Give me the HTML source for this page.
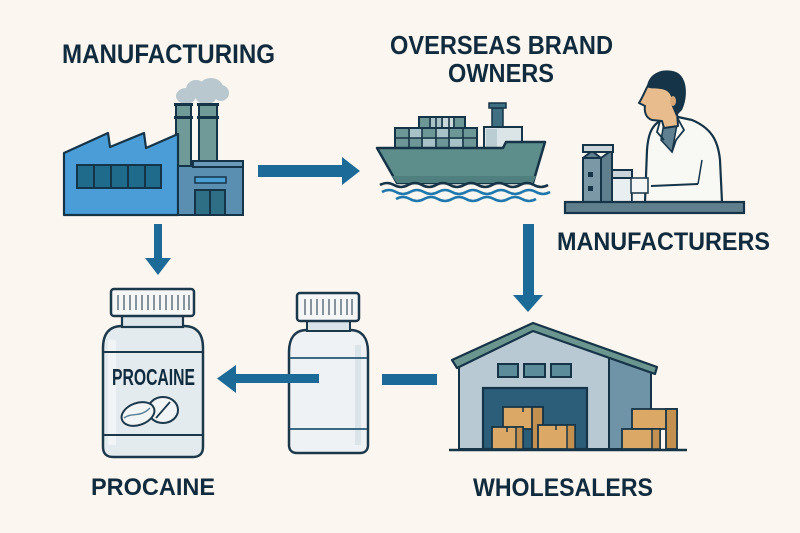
<!DOCTYPE html>
<html>
<head>
<meta charset="utf-8">
<style>
  html,body{margin:0;padding:0;background:#fbf7f0;}
  svg{display:block;}
  .lbl{font-family:"Liberation Sans",Arial,sans-serif;font-weight:bold;fill:#112b3e;}
</style>
</head>
<body>
<svg width="800" height="533" viewBox="0 0 800 533" xmlns="http://www.w3.org/2000/svg">
  <rect x="0" y="0" width="800" height="533" fill="#fbf7f0"/>

  <!-- ===== Labels ===== -->
  <text class="lbl" x="62" y="63" font-size="27" textLength="213" lengthAdjust="spacingAndGlyphs">MANUFACTURING</text>
  <text class="lbl" x="390" y="54" font-size="26" textLength="223" lengthAdjust="spacingAndGlyphs">OVERSEAS BRAND</text>
  <text class="lbl" x="448" y="82" font-size="26" textLength="106" lengthAdjust="spacingAndGlyphs">OWNERS</text>
  <text class="lbl" x="557" y="250" font-size="25" textLength="213" lengthAdjust="spacingAndGlyphs">MANUFACTURERS</text>
  <text class="lbl" x="91" y="495" font-size="24" textLength="124" lengthAdjust="spacingAndGlyphs">PROCAINE</text>
  <text class="lbl" x="473" y="496" font-size="25" textLength="180" lengthAdjust="spacingAndGlyphs">WHOLESALERS</text>

  <!-- ===== Factory ===== -->
  <!-- smoke -->
  <g fill="#b8c8ce">
    <ellipse cx="186" cy="96" rx="10" ry="8"/>
    <ellipse cx="196" cy="89" rx="10" ry="9"/>
    <ellipse cx="211" cy="88" rx="12" ry="10"/>
    <ellipse cx="221" cy="93" rx="8" ry="8"/>
    <ellipse cx="206" cy="98" rx="10" ry="6"/>
  </g>
  <!-- chimneys -->
  <rect x="176" y="104" width="15" height="62" fill="#6f9a98" stroke="#163447" stroke-width="2"/>
  <rect x="174" y="116" width="19" height="3" fill="#163447"/>
  <rect x="174" y="103" width="19" height="3" fill="#163447"/>
  <rect x="199" y="104" width="18" height="60" fill="#6f9a98" stroke="#163447" stroke-width="2"/>
  <rect x="197" y="116" width="22" height="3" fill="#163447"/>
  <rect x="197" y="103" width="22" height="3" fill="#163447"/>
  <!-- main building -->
  <path d="M64,153 L108,133 L110,147 L144,133 L146,148 L178,134 L178,215 L64,215 Z" fill="#4a9dd6" stroke="#163447" stroke-width="2.2" stroke-linejoin="round"/>
  <rect x="77" y="165" width="84" height="23" fill="#1f6b8c" stroke="#163447" stroke-width="2"/>
  <g stroke="#163447" stroke-width="2">
    <line x1="94" y1="165" x2="94" y2="188"/>
    <line x1="111" y1="165" x2="111" y2="188"/>
    <line x1="128" y1="165" x2="128" y2="188"/>
    <line x1="145" y1="165" x2="145" y2="188"/>
  </g>
  <!-- annex -->
  <rect x="178" y="166" width="65" height="49" fill="#5b8fb2" stroke="#163447" stroke-width="2"/>
  <rect x="193" y="161" width="50" height="6" fill="#6b9bbb" stroke="#163447" stroke-width="2"/>
  <rect x="195" y="177" width="31" height="6" fill="#4aa0d4" stroke="#163447" stroke-width="1.5"/>
  <rect x="195" y="190" width="30" height="25" fill="#2f6f85" stroke="#163447" stroke-width="2"/>
  <line x1="210" y1="190" x2="210" y2="215" stroke="#163447" stroke-width="2"/>

  <!-- ===== Arrow factory -> ship ===== -->
  <rect x="258" y="165" width="86" height="12" fill="#1b6a98"/>
  <polygon points="342,157 360,171 342,185" fill="#1b6a98"/>

  <!-- ===== Ship ===== -->
  <!-- mast -->
  <rect x="492" y="108" width="11" height="20" fill="#3f6f80" stroke="#163447" stroke-width="1.5"/>
  <rect x="489" y="103" width="17" height="5" fill="#3f6f80" stroke="#163447" stroke-width="1.5"/>
  <!-- bridge -->
  <rect x="484" y="127" width="38" height="21" fill="#dbe4e6" stroke="#163447" stroke-width="2"/>
  <rect x="486" y="129" width="11" height="18" fill="#b9cdd2"/>
  <!-- containers -->
  <rect x="419" y="117" width="46" height="11" fill="#6d9696" stroke="#163447" stroke-width="2"/>
  <rect x="431" y="118" width="11" height="9" fill="#a8c3c8"/>
  <rect x="443" y="118" width="10" height="9" fill="#c9d8db"/>
  <rect x="395" y="128" width="82" height="20" fill="#6d9696" stroke="#163447" stroke-width="2"/>
  <g fill="#a8c3c8">
    <rect x="410" y="129" width="12" height="9"/>
    <rect x="436" y="129" width="12" height="9"/>
    <rect x="450" y="139" width="12" height="8"/>
    <rect x="423" y="139" width="12" height="8"/>
  </g>
  <g stroke="#163447" stroke-width="1.6">
    <line x1="395" y1="138" x2="477" y2="138"/>
    <line x1="409" y1="128" x2="409" y2="148"/>
    <line x1="422" y1="128" x2="422" y2="148"/>
    <line x1="436" y1="117" x2="436" y2="148"/>
    <line x1="449" y1="117" x2="449" y2="148"/>
    <line x1="463" y1="128" x2="463" y2="148"/>
    <line x1="430" y1="117" x2="430" y2="128"/>
    <line x1="442" y1="117" x2="442" y2="128"/>
    <line x1="454" y1="117" x2="454" y2="128"/>
  </g>
  <!-- hull -->
  <path d="M377,148 L503,148 L506,142 L545,142 L533,183 L397,183 Z" fill="#5e8e8c" stroke="#163447" stroke-width="2.5" stroke-linejoin="round"/>
  <path d="M392,176 L536,176 L533,183 L397,183 Z" fill="#4f807f"/>
  <!-- waves -->
  <path d="M380,185 q7,-4 14,0 t14,0 t14,0 t14,0 t14,0 t14,0 t14,0 t14,0 t14,0 t14,0 t14,0 t14,0" fill="none" stroke="#163447" stroke-width="2.5"/>
  <path d="M382,192 q7,-4 14,0 t14,0 t14,0 t14,0 t14,0 t14,0 t14,0 t14,0 t14,0 t14,0 t14,0 t14,0" fill="none" stroke="#1e78ae" stroke-width="2.5"/>
  <path d="M396,199 q7,-4 14,0 t14,0 t14,0 t14,0 t14,0 t14,0 t14,0 t14,0 t14,0 t14,0" fill="none" stroke="#1e78ae" stroke-width="2.5"/>

  <!-- ===== Manufacturers (person at desk) ===== -->
  <!-- machine -->
  <rect x="583" y="158" width="18" height="44" fill="#7a98a6" stroke="#163447" stroke-width="2"/>
  <path d="M601,158 L612,150 L612,202 L601,202 Z" fill="#5f7f8f" stroke="#163447" stroke-width="2" stroke-linejoin="round"/>
  <path d="M583,158 L592,151 L601,158 Z" fill="#5f7f8f" stroke="#163447" stroke-width="2" stroke-linejoin="round"/>
  <rect x="583" y="145" width="30" height="7" fill="#c9d3d8" stroke="#163447" stroke-width="2"/>
  <rect x="588" y="172" width="5" height="5" fill="#163447"/>
  <rect x="588" y="186" width="5" height="5" fill="#163447"/>
  <rect x="612" y="170" width="20" height="32" fill="#e9eef0" stroke="#163447" stroke-width="2"/>
  <rect x="612" y="170" width="20" height="8" fill="#c9d5da" stroke="#163447" stroke-width="2"/>
  <rect x="632" y="184" width="16" height="18" fill="#f4f6f6" stroke="#163447" stroke-width="1.5"/>
  <!-- coat -->
  <path d="M660,121 C651,126 648,136 647,150 L645,202 L722,202 L720,160 C718,140 711,128 692,120 L678,117 Z" fill="#f8f8f5" stroke="#163447" stroke-width="2.2" stroke-linejoin="round"/>
  <path d="M664,123 L678,119 L672,152 L661,140 Z" fill="#5f8090" stroke="#163447" stroke-width="1.5"/>
  <path d="M678,119 L684,130 L676,140 L672,152" fill="none" stroke="#163447" stroke-width="1.8"/>
  <path d="M660,121 L657,132 L664,140" fill="none" stroke="#163447" stroke-width="1.8"/>
  <line x1="651" y1="186" x2="698" y2="184" stroke="#163447" stroke-width="2"/>
  <path d="M698,184 L702,160" fill="none" stroke="#163447" stroke-width="1.5"/>
  <rect x="631" y="178" width="17" height="15" fill="#f4f6f6" stroke="#163447" stroke-width="1.5"/>
  <!-- head -->
  <path d="M650,82 C646,88 644,95 639,103 L645,106 C644,112 646,118 652,120 L662,121 L664,128 L678,126 L677,112 C684,105 684,88 678,78 C670,70 655,72 650,82 Z" fill="#e9bc8e" stroke="#163447" stroke-width="2" stroke-linejoin="round"/>
  <path d="M647,87 C648,74 662,67 676,72 C688,77 688,98 682,110 L676,116 L671,104 C673,96 669,90 661,89 C655,88 650,89 647,87 Z" fill="#163447"/>
  <ellipse cx="673" cy="101" rx="3" ry="5" fill="#d9a877"/>
  <!-- desk -->
  <rect x="565" y="202" width="179" height="11" fill="#5f7f8d" stroke="#163447" stroke-width="2.2"/>

  <!-- ===== Arrow factory down ===== -->
  <rect x="154" y="224" width="8" height="36" fill="#1b6a98"/>
  <polygon points="145,258 171,258 158,275" fill="#1b6a98"/>

  <!-- ===== Arrow ship down ===== -->
  <rect x="523" y="224" width="11" height="73" fill="#1b6a98"/>
  <polygon points="513,295 543,295 528,312" fill="#1b6a98"/>

  <!-- ===== Big bottle (PROCAINE) ===== -->
  <path d="M103,348 C103,333 110,326 122,326 L184,326 C196,326 203,333 203,348 L203,447 C203,454 199,457 193,457 L113,457 C107,457 103,454 103,447 Z" fill="#e3ebef" stroke="#1c384b" stroke-width="2.5"/>
  <rect x="108" y="340" width="8" height="105" fill="#f2f6f7" opacity="0.8"/>
  <rect x="122" y="315" width="61" height="12" fill="#dbe5ea" stroke="#1c384b" stroke-width="2.2"/>
  <rect x="111" y="289" width="83" height="27" rx="3" fill="#f5f6f6" stroke="#1c384b" stroke-width="2.5"/>
  <g stroke="#4a5e6c" stroke-width="1.3">
    <line x1="118" y1="295" x2="118" y2="310"/><line x1="124" y1="295" x2="124" y2="310"/>
    <line x1="130" y1="295" x2="130" y2="310"/><line x1="136" y1="295" x2="136" y2="310"/>
    <line x1="142" y1="295" x2="142" y2="310"/><line x1="148" y1="295" x2="148" y2="310"/>
    <line x1="154" y1="295" x2="154" y2="310"/><line x1="160" y1="295" x2="160" y2="310"/>
    <line x1="166" y1="295" x2="166" y2="310"/><line x1="172" y1="295" x2="172" y2="310"/>
    <line x1="178" y1="295" x2="178" y2="310"/><line x1="184" y1="295" x2="184" y2="310"/>
    <line x1="189" y1="295" x2="189" y2="310"/>
  </g>
  <line x1="104" y1="352" x2="202" y2="352" stroke="#1c384b" stroke-width="2"/>
  <line x1="104" y1="435" x2="202" y2="435" stroke="#1c384b" stroke-width="2"/>
  <text class="lbl" x="112" y="385" font-size="23" textLength="83" lengthAdjust="spacingAndGlyphs">PROCAINE</text>
  <!-- pills -->
  <ellipse cx="163" cy="410" rx="15" ry="13" fill="#f2f5f6" stroke="#1c384b" stroke-width="2"/>
  <line x1="156" y1="418" x2="170" y2="402" stroke="#1c384b" stroke-width="1.8"/>
  <ellipse cx="138" cy="414" rx="17" ry="11" transform="rotate(-20 138 414)" fill="#f2f5f6" stroke="#1c384b" stroke-width="2"/>
  <path d="M124,418 C132,412 140,418 150,408" fill="none" stroke="#5a7f96" stroke-width="1.5"/>

  <!-- ===== Small bottle ===== -->
  <path d="M289,352 C289,338 295,330 307,330 L350,330 C362,330 368,338 368,352 L368,445 C368,450 365,453 360,453 L297,453 C292,453 289,450 289,445 Z" fill="#eef2f4" stroke="#1c384b" stroke-width="2.5"/>
  <rect x="355" y="345" width="6" height="100" fill="#d6e1e6" opacity="0.8"/>
  <rect x="307" y="320" width="43" height="11" fill="#d9e4e9" stroke="#1c384b" stroke-width="2"/>
  <rect x="297" y="293" width="62" height="28" rx="3" fill="#f5f6f6" stroke="#1c384b" stroke-width="2.5"/>
  <g stroke="#4a5e6c" stroke-width="1.3">
    <line x1="305" y1="299" x2="305" y2="315"/><line x1="311" y1="299" x2="311" y2="315"/>
    <line x1="317" y1="299" x2="317" y2="315"/><line x1="323" y1="299" x2="323" y2="315"/>
    <line x1="329" y1="299" x2="329" y2="315"/><line x1="335" y1="299" x2="335" y2="315"/>
    <line x1="341" y1="299" x2="341" y2="315"/><line x1="347" y1="299" x2="347" y2="315"/>
    <line x1="352" y1="299" x2="352" y2="315"/>
  </g>
  <line x1="290" y1="358" x2="367" y2="358" stroke="#3b6a84" stroke-width="2"/>
  <line x1="290" y1="429" x2="367" y2="429" stroke="#3b6a84" stroke-width="2"/>

  <!-- ===== Arrow to PROCAINE ===== -->
  <rect x="234" y="374" width="85" height="9" fill="#1b6a98"/>
  <polygon points="217,378.5 236,365 236,393" fill="#1b6a98"/>
  <rect x="382" y="374" width="55" height="11" fill="#1b6a98"/>

  <!-- ===== Warehouse ===== -->
  <polygon points="459,364 533,330 609,357 609,449 459,449" fill="#b9c9d4" stroke="#163447" stroke-width="2"/>
  <polygon points="609,357 651,372 651,449 609,449" fill="#6f94a7" stroke="#163447" stroke-width="2"/>
  <path d="M452,360 L533,323 L657,367 L655,374 L533,331 L457,368 Z" fill="#6b968f" stroke="#163447" stroke-width="2.2" stroke-linejoin="round"/>
  <rect x="498" y="364" width="20" height="13" fill="#5c8c9a" stroke="#163447" stroke-width="2"/>
  <rect x="524" y="364" width="21" height="13" fill="#5c8c9a" stroke="#163447" stroke-width="2"/>
  <rect x="551" y="364" width="20" height="13" fill="#5c8c9a" stroke="#163447" stroke-width="2"/>
  <rect x="483" y="388" width="104" height="61" fill="#2c5d79" stroke="#163447" stroke-width="2.2"/>
  <!-- boxes in door -->
  <rect x="503" y="407" width="40" height="22" fill="#dba866" stroke="#163447" stroke-width="1.8"/>
  <rect x="532" y="407" width="11" height="42" fill="#c4904f" stroke="#163447" stroke-width="1.8"/>
  <rect x="492" y="427" width="31" height="22" fill="#dba866" stroke="#163447" stroke-width="1.8"/>
  <rect x="516" y="427" width="7" height="22" fill="#c4904f" stroke="#163447" stroke-width="1.5"/>
  <rect x="538" y="425" width="37" height="24" fill="#dba866" stroke="#163447" stroke-width="1.8"/>
  <rect x="567" y="425" width="8" height="24" fill="#c4904f" stroke="#163447" stroke-width="1.5"/>
  <line x1="523" y1="407" x2="523" y2="412" stroke="#163447" stroke-width="1.5"/>
  <line x1="507" y1="427" x2="507" y2="432" stroke="#163447" stroke-width="1.5"/>
  <line x1="556" y1="425" x2="556" y2="430" stroke="#163447" stroke-width="1.5"/>
  <!-- boxes right -->
  <rect x="632" y="409" width="45" height="20" fill="#dba866" stroke="#163447" stroke-width="1.8"/>
  <rect x="666" y="409" width="11" height="40" fill="#c4904f" stroke="#163447" stroke-width="1.8"/>
  <rect x="622" y="429" width="38" height="20" fill="#dba866" stroke="#163447" stroke-width="1.8"/>
  <rect x="652" y="429" width="8" height="20" fill="#c4904f" stroke="#163447" stroke-width="1.5"/>
  <line x1="449" y1="450" x2="687" y2="450" stroke="#163447" stroke-width="2.5"/>
</svg>
</body>
</html>
